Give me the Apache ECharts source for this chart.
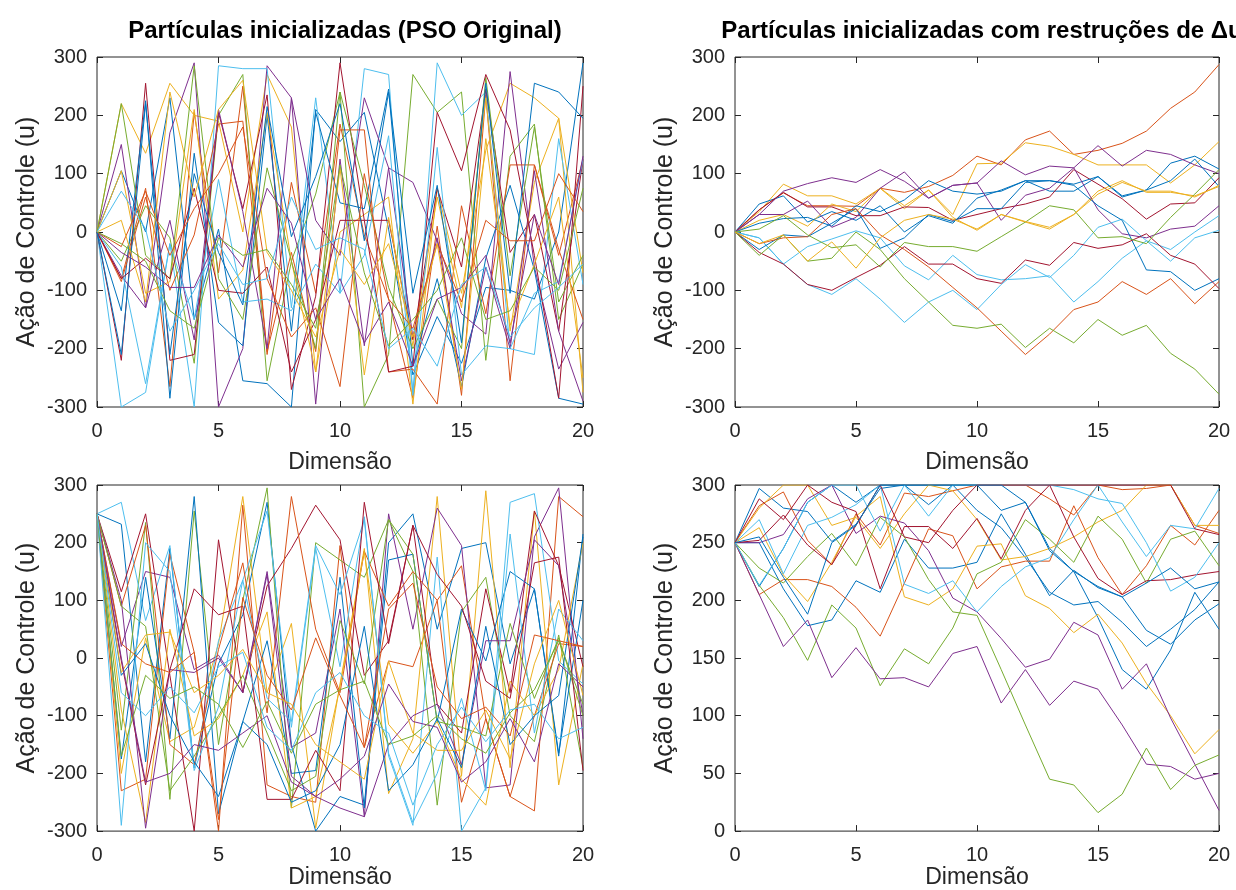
<!DOCTYPE html>
<html>
<head>
<meta charset="utf-8">
<script src="https://cdn.jsdelivr.net/npm/echarts@6/dist/echarts.min.js"></script>
<style>
  html, body { margin: 0; padding: 0; background: #fff; }
  #main { width: 1236px; height: 890px; }
</style>
</head>
<body>
<div id="main"></div>
<script>
// dimensoes (eixo x)
var dims = [0,1,2,3,4,5,6,7,8,9,10,11,12,13,14,15,16,17,18,19,20];

// cores padrao do matlab
var cores = ['#0072BD','#D95319','#EDB120','#7E2F8E','#77AC30','#4DBEEE','#A2142F'];

var ticksU = [-300,-200,-100,0,100,200,300];
var ticksU2 = [0,50,100,150,200,250,300];

// ---- grafico 1: PSO original, inicio em 0
var o01 = [0,105,0,230,-150,5,-255,-260,-300,210,155,205,5,-245,-145,-225,-95,-100,-115,0,290];
var o02 = [0,-80,75,-265,205,-70,250,-210,85,-105,185,-5,-115,-285,10,-280,235,-255,115,-40,125];
var o03 = [0,220,135,255,200,190,0,270,180,-240,0,30,60,-295,75,-105,140,255,230,195,-275];
var o04 = [0,150,-130,170,290,-300,-200,285,230,-295,125,-195,110,85,-15,-140,-175,275,-60,-235,-155];
var o05 = [0,-50,45,-10,-225,200,270,-255,-50,65,240,-300,-210,270,205,240,-220,130,185,-150,-55];
var o06 = [0,-300,-275,-20,-300,285,280,280,-130,230,-105,280,270,-275,290,200,240,-200,-210,160,-90];
var o07 = [0,-220,255,-220,-210,205,40,235,-270,-110,290,20,20,-185,75,-60,245,-35,30,-170,125];
var o08 = [0,-135,225,-285,135,-155,-195,200,-170,205,50,40,245,-230,-80,-265,-45,80,-65,-285,-295];
var o09 = [0,-85,60,-100,-5,185,190,-205,-35,-205,175,175,-240,-235,-295,45,-140,115,115,-30,-150];
var o10 = [0,105,-105,-85,210,-115,-65,205,-50,-240,110,-245,25,-195,60,-130,230,-170,85,195,-70];
var o11 = [0,-75,-130,20,-185,210,35,-200,230,20,-40,230,110,-180,-10,-255,-60,-200,105,-170,-290];
var o12 = [0,220,-40,-80,285,-80,-150,110,-50,-200,240,80,-95,-200,-115,-200,265,-75,180,-120,-40];
var o13 = [0,-60,-260,-20,-150,90,-120,-115,-135,-55,-105,-40,165,-280,145,-245,-195,-200,-105,-85,125];
var o14 = [0,-80,-45,-80,75,-100,-105,-60,-240,-150,20,20,-240,-230,205,105,270,175,-40,-285,250];
var o15 = [0,-210,220,-210,100,-35,-125,215,-8,95,220,-15,240,-105,80,-190,255,-105,255,240,195];
var o16 = [0,-25,70,-40,40,100,180,-80,-180,-130,-265,100,-115,-165,-20,-120,20,-15,-15,100,35];
var o17 = [0,20,-120,240,60,210,260,-35,-100,-180,-30,-90,-20,-180,-20,-270,160,-160,-55,60,-250];
var o18 = [0,-35,-60,-95,-95,-5,-60,75,15,-150,-80,-190,-120,-230,-115,-95,-40,-190,30,-90,130];
var o19 = [0,-20,-50,-135,-165,-10,-40,-30,-90,-165,115,-70,-195,-150,-100,-10,-150,-135,-60,-100,75];
var o20 = [0,70,5,-170,-100,-20,-90,-80,60,-30,-10,-30,-200,-165,-230,-90,-60,-180,-130,-95,-55];

// ---- grafico 2: com restricoes de delta u, inicio em 0
var r01 = [0,38,67,45,45,44,75,68,78,97,130,115,158,173,133,140,152,173,212,240,287];
var r02 = [0,35,82,62,62,48,75,40,72,30,117,118,153,147,133,115,115,115,84,115,155];
var r03 = [0,48,62,17,35,20,45,0,28,15,58,72,88,70,70,95,62,72,118,130,108];
var r04 = [0,30,70,83,93,85,107,87,58,80,84,122,98,113,110,148,113,140,133,115,100];
var r05 = [0,38,68,43,43,28,28,43,42,20,30,40,48,60,107,82,57,22,48,50,93];
var r06 = [0,20,30,10,48,35,75,45,72,25,3,30,17,5,30,70,88,68,68,62,78];
var r07 = [0,15,23,25,10,45,35,55,88,70,65,70,88,88,82,95,60,72,88,125,78];
var r08 = [0,30,30,53,8,25,75,103,58,80,84,20,63,75,110,38,-3,-10,5,10,45];
var r09 = [0,-10,-55,-25,-12,2,-10,-58,-82,-40,-73,-82,-80,-75,-120,-85,-45,-15,-30,0,28];
var r10 = [0,-10,-55,-90,-107,-80,-115,-155,-120,-100,-133,-90,-56,-78,-40,8,22,-15,-50,-10,3];
var r11 = [0,-30,-5,-8,15,40,-28,-10,30,18,40,40,85,88,80,45,20,-65,-68,-100,-80];
var r12 = [0,-20,-10,-8,30,40,-5,-30,-60,-95,-130,-170,-210,-175,-133,-120,-85,-107,-80,-123,-85];
var r13 = [0,-35,-55,-90,-100,-78,-57,-25,-55,-55,-80,-88,-48,-57,-18,-28,-22,-3,-40,-55,-97];
var r14 = [0,5,28,-5,-27,-22,-60,-18,-25,-25,-33,-8,17,45,38,-10,-8,-20,25,65,107];
var r15 = [0,-40,-5,-50,-45,0,-30,-80,-120,-160,-165,-158,-198,-165,-190,-150,-177,-160,-208,-235,-278];
var r16 = [0,-20,-5,-50,-17,-62,-10,20,30,22,5,30,18,8,30,65,85,70,70,60,80];

// ---- grafico 3: PSO original, inicio em 250
var b01 = [250,232,-180,190,-190,-10,75,270,-150,-300,-240,-255,200,250,50,190,200,-10,120,-170,215];
var b02 = [250,-230,-210,180,10,-300,265,-220,-240,-250,195,-155,-5,-15,100,160,-105,-240,-265,280,245];
var b03 = [250,-200,35,-145,-120,25,280,-60,60,-295,-45,190,-235,-140,280,-205,290,-190,255,-220,-10];
var b04 = [250,20,150,140,-20,5,-60,150,-155,-130,85,-275,250,50,260,195,-225,-220,210,295,-140];
var b05 = [250,-125,235,-245,255,-150,100,295,-260,200,170,140,240,150,-255,80,140,-100,-145,40,-190];
var b06 = [250,270,65,195,-190,30,135,255,-120,190,-15,245,-170,-290,175,-300,-225,270,285,-5,-45];
var b07 = [250,115,250,-30,-300,205,-60,125,190,265,205,-30,30,230,-80,-130,120,-60,255,160,-15];
var b08 = [250,-175,140,-140,280,-270,-110,30,-200,-195,140,-260,170,180,-110,85,-5,150,120,-165,100];
var b09 = [250,90,230,-150,-185,15,165,-95,280,50,-60,185,90,150,100,-250,-105,-240,-100,25,20];
var b10 = [250,-90,-285,50,-135,-105,-30,80,-260,-240,-50,185,-115,-165,-110,-210,-255,-40,-100,-20,200];
var b11 = [250,100,-295,-20,-25,0,-60,145,-205,-240,-260,-275,-150,-100,-80,-185,30,30,205,160,-100];
var b12 = [250,90,55,-230,-170,-100,-30,-130,-230,-205,65,-45,240,180,-110,-120,-135,60,-70,35,-100];
var b13 = [250,-290,200,150,-195,-85,135,-70,-110,195,110,240,-165,-285,-200,-70,-230,215,-130,85,30];
var b14 = [250,-5,-220,-20,120,75,90,-245,-245,-160,-230,270,25,230,145,90,-40,-70,165,175,-195];
var b15 = [250,-30,25,-100,-180,-240,-110,-150,-250,-230,-150,55,-230,-185,-105,-190,55,-150,-100,-65,210];
var b16 = [250,25,-10,-25,10,-280,105,-30,-90,35,-65,-155,85,130,-50,-105,-85,-135,40,30,20];
var b17 = [250,-25,40,45,-60,-30,15,-60,-80,-150,-180,-210,-5,-130,-160,-160,-90,-175,-10,100,-65];
var b18 = [250,0,-215,-200,-150,-160,-130,-100,-215,-240,-210,-170,-45,-110,-120,-215,-180,-105,-180,-10,-50];
var b19 = [250,-170,-30,-70,-50,-80,-155,-75,-165,-80,-55,-40,-150,-135,-100,-140,-165,-95,-55,30,-80];
var b20 = [250,-60,-100,-50,-95,-15,10,-120,-160,-60,-25,-100,-130,-255,-150,-85,-145,-90,-80,-140,-120];

// ---- grafico 4: com restricoes, inicio em 250 (saturado em 300)
var s01 = [250,297,280,277,251,266,297,300,283,300,278,263,237,207,196,199,181,160,175,192,216];
var s02 = [250,250,210,178,183,217,207,253,228,228,233,275,240,204,226,211,203,174,162,183,197];
var s03 = [250,212,245,285,300,285,300,300,300,300,300,278,285,245,225,185,140,123,157,207,175];
var s04 = [250,205,218,218,212,194,169,215,262,256,210,229,234,234,282,237,205,230,265,248,278];
var s05 = [250,282,294,252,231,275,248,293,290,295,300,300,300,288,274,300,296,297,300,265,258];
var s06 = [250,263,222,199,233,273,290,203,196,210,247,249,204,193,172,188,163,128,100,67,88];
var s07 = [250,280,300,300,265,272,245,275,300,295,270,235,238,245,255,268,278,300,300,265,265];
var s08 = [250,250,257,288,300,258,273,267,243,202,190,167,142,149,181,170,123,145,98,58,18];
var s09 = [250,213,185,148,196,176,126,158,145,176,223,233,270,253,233,273,253,215,253,260,230];
var s10 = [250,270,223,265,272,283,300,214,206,217,190,212,229,237,270,300,268,238,265,262,297];
var s11 = [250,288,270,300,285,277,210,264,264,245,271,236,278,300,255,219,205,217,218,222,225];
var s12 = [250,205,160,183,133,159,132,133,125,154,160,111,140,109,130,123,92,58,56,45,50];
var s13 = [250,228,215,238,258,230,272,255,218,190,187,140,92,45,40,16,32,72,36,57,66];
var s14 = [250,213,245,285,300,300,260,300,273,300,300,300,300,300,296,288,284,250,208,220,250];
var s15 = [250,252,274,248,231,265,300,255,250,278,300,300,300,300,300,300,300,300,300,262,257];
var s16 = [250,255,220,188,250,265,300,300,300,300,300,300,285,243,225,212,203,215,228,210,216];

var grupos = [
  [o01,o02,o03,o04,o05,o06,o07,o08,o09,o10,o11,o12,o13,o14,o15,o16,o17,o18,o19,o20],
  [r01,r02,r03,r04,r05,r06,r07,r08,r09,r10,r11,r12,r13,r14,r15,r16],
  [b01,b02,b03,b04,b05,b06,b07,b08,b09,b10,b11,b12,b13,b14,b15,b16,b17,b18,b19,b20],
  [s01,s02,s03,s04,s05,s06,s07,s08,s09,s10,s11,s12,s13,s14,s15,s16]
];
// indice da cor de cada linha (na ordem de cima)
var corIdx = [
  [0,1,2,3,4,5,6,0,1,2,3,4,5,6,0,1,2,3,4,5],
  [1,2,0,3,6,2,0,3,5,5,0,1,6,4,4,2],
  [0,1,2,3,4,5,6,0,1,2,3,4,5,6,0,1,2,3,4,5],
  [0,0,0,1,1,2,2,3,4,5,6,3,4,5,6,0]
];

var titulos = ['Partículas inicializadas (PSO Original)', 'Partículas inicializadas com restruções de \u0394u', '', ''];

var fonte = "'Liberation Sans', Helvetica, Arial, sans-serif";
var cinza = '#262626';

var myChart = echarts.init(document.getElementById('main'));

var grades = [
  {left: 97, top: 57, width: 486, height: 350},
  {left: 735, top: 57, width: 484, height: 350},
  {left: 97, top: 485, width: 486, height: 348},
  {left: 735, top: 485, width: 484, height: 348}
];

var xAxes = [], yAxes = [], series = [], titles = [];

for (var p = 0; p < 4; p++) {
  grades[p].show = true;
  grades[p].borderColor = cinza;
  grades[p].borderWidth = 1;
  grades[p].containLabel = false;

  var yt = (p == 3) ? ticksU2 : ticksU;
  var tickStyle = {show: true, inside: true, length: 6, lineStyle: {color: cinza, width: 1}};
  var semLinha = {show: false, onZero: false};

  xAxes.push({
    gridIndex: p, type: 'value', min: 0, max: 20, interval: 5, position: 'bottom',
    name: 'Dimensão', nameLocation: 'middle', nameGap: (p < 2) ? 44 : 33,
    nameTextStyle: {fontFamily: fonte, fontSize: 23, color: cinza},
    axisLine: semLinha, splitLine: {show: false},
    axisTick: tickStyle,
    axisLabel: {fontFamily: fonte, fontSize: 20, color: cinza, margin: 14}
  });
  xAxes.push({
    gridIndex: p, type: 'value', min: 0, max: 20, interval: 5, position: 'top',
    axisLine: semLinha, splitLine: {show: false},
    axisTick: tickStyle, axisLabel: {show: false}
  });
  yAxes.push({
    gridIndex: p, type: 'value', min: yt[0], max: yt[yt.length - 1], interval: yt[1] - yt[0], position: 'left',
    name: 'Ação de Controle (u)', nameLocation: 'middle', nameGap: 57,
    nameTextStyle: {fontFamily: fonte, fontSize: 25, color: cinza},
    axisLine: semLinha, splitLine: {show: false},
    axisTick: tickStyle,
    axisLabel: {fontFamily: fonte, fontSize: 20, color: cinza, margin: 10}
  });
  yAxes.push({
    gridIndex: p, type: 'value', min: yt[0], max: yt[yt.length - 1], interval: yt[1] - yt[0], position: 'right',
    axisLine: semLinha, splitLine: {show: false},
    axisTick: tickStyle, axisLabel: {show: false}
  });

  if (titulos[p]) {
    titles.push({
      text: titulos[p],
      left: grades[p].left + grades[p].width / 2,
      textAlign: 'center',
      top: 14,
      textStyle: {fontFamily: fonte, fontSize: 24, fontWeight: 'bold', color: '#000'}
    });
  }

  var linhas = grupos[p];
  for (var k = 0; k < linhas.length; k++) {
    var vals = linhas[k];
    var pts = [];
    for (var i = 0; i < dims.length; i++) {
      pts.push([dims[i], vals[i]]);
    }
    series.push({
      type: 'line',
      xAxisIndex: 2 * p,
      yAxisIndex: 2 * p,
      data: pts,
      showSymbol: false,
      symbol: 'none',
      clip: true,
      lineStyle: {width: 1, color: cores[corIdx[p][k]]},
      emphasis: {disabled: true}
    });
  }
}

var option = {
  backgroundColor: '#fff',
  animation: false,
  title: titles,
  grid: grades,
  xAxis: xAxes,
  yAxis: yAxes,
  series: series
};

myChart.setOption(option);
</script>
</body>
</html>
